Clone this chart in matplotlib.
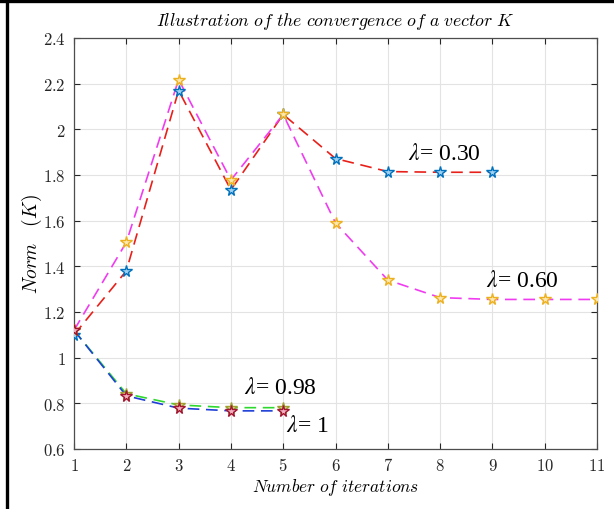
import matplotlib
matplotlib.use("Agg")
import matplotlib.pyplot as plt
from matplotlib.ticker import FuncFormatter, MultipleLocator
from matplotlib.lines import Line2D

plt.rcParams['mathtext.fontset'] = 'cm'
plt.rcParams['font.family'] = ['DejaVu Serif']

# Data
x_030 = [1, 2, 3, 4, 5, 6, 7, 8, 9]
y_030 = [1.10, 1.38, 2.17, 1.735, 2.065, 1.872, 1.815, 1.812, 1.812]
x_060 = [1, 2, 3, 4, 5, 6, 7, 8, 9, 10, 11]
y_060 = [1.12, 1.505, 2.218, 1.778, 2.065, 1.59, 1.34, 1.263, 1.255, 1.255, 1.255]
x_098 = [1, 2, 3, 4, 5]
y_098 = [1.12, 0.842, 0.793, 0.781, 0.781]
x_1 = [1, 2, 3, 4, 5]
y_1 = [1.12, 0.833, 0.779, 0.767, 0.767]

labels = [r'$\lambda$= 0.30', r'$\lambda$= 0.60', r'$\lambda$= 0.98', r'$\lambda$= 1']
label_pos = [(8.09, 1.895), (9.58, 1.34), (4.94, 0.871), (5.47, 0.705)]

title = 'Illustration of the convergence of a vector K'
xlabel = 'Number of iterations'
ylabel = 'Norm (K)'

fig = plt.figure(figsize=(6.14, 5.10), dpi=100)
ax = fig.add_axes([74/614, 60/510, (597-74)/614, (450-39)/510])

dash = (0, (7, 4))
ax.plot(x_030, y_030, color='#e8201a', lw=1.2, linestyle=dash, zorder=3)
ax.plot(x_060, y_060, color='#f03cf0', lw=1.2, linestyle=dash, zorder=3)
ax.plot(x_098, y_098, color='#2ed82e', lw=1.2, linestyle=dash, zorder=3)
ax.plot(x_1, y_1, color='#1f3fd8', lw=1.2, linestyle=dash, zorder=3)

ms = 8.5
ax.plot(x_030, y_030, linestyle='none', marker='*', ms=ms, mfc='#9fd0f0', mec='#0072bd', mew=1.0, zorder=4)
ax.plot(x_060, y_060, linestyle='none', marker='*', ms=ms, mfc='#fbe7b0', mec='#edb120', mew=1.0, zorder=4)
ax.plot(x_098, y_098, linestyle='none', marker='*', ms=ms, mfc='#d8d890', mec='#a0a030', mew=1.0, zorder=4)
ax.plot(x_1, y_1, linestyle='none', marker='*', ms=ms, mfc='#f0b0c0', mec='#a2142f', mew=1.0, zorder=4)

for t, (px, py) in zip(labels, label_pos):
    ax.text(px, py, t, ha='center', va='center', fontsize=17,
            family='Liberation Serif', math_fontfamily='stix', color='black', zorder=5)

ax.set_xlim(1, 11)
ax.set_ylim(0.6, 2.4)
ax.xaxis.set_major_locator(MultipleLocator(1))
ax.yaxis.set_major_locator(MultipleLocator(0.2))
fmt = FuncFormatter(lambda v, p: r'$%g$' % round(v, 2))
ax.xaxis.set_major_formatter(fmt)
ax.yaxis.set_major_formatter(fmt)
ax.tick_params(direction='in', length=4, width=0.8, top=True, right=True,
               labelsize=12, colors='#262626', pad=6)
for s in ax.spines.values():
    s.set_color('#4d4d4d')
    s.set_linewidth(0.9)
ax.grid(True, color='#e3e3e3', linewidth=0.8)
ax.set_axisbelow(True)

ax.set_title(r'$\mathit{Illustration\ of\ the\ convergence\ of\ a\ vector\ K}$', fontsize=12.8, y=1.012)
ax.set_xlabel(r'$\mathit{Number\ of\ iterations}$', fontsize=12.5)
ax.xaxis.set_label_coords(0.5, (450 - 488) / 411, transform=ax.transAxes)
ax.set_ylabel(r'$\mathit{Norm\ \ \ (K)}$', fontsize=14)
ax.yaxis.set_label_coords((32 - 74) / 523, 0.5, transform=ax.transAxes)
ax.xaxis.label.set_va('center')
ax.yaxis.label.set_va('center')

# black frame lines (top and left)
fig.add_artist(Line2D([0, 1], [1 - 1.5/510, 1 - 1.5/510], color='black', lw=2.4, transform=fig.transFigure))
fig.add_artist(Line2D([6.5/614, 6.5/614], [0, 1], color='black', lw=2.4, transform=fig.transFigure))

fig.savefig('out.png', dpi=100)
